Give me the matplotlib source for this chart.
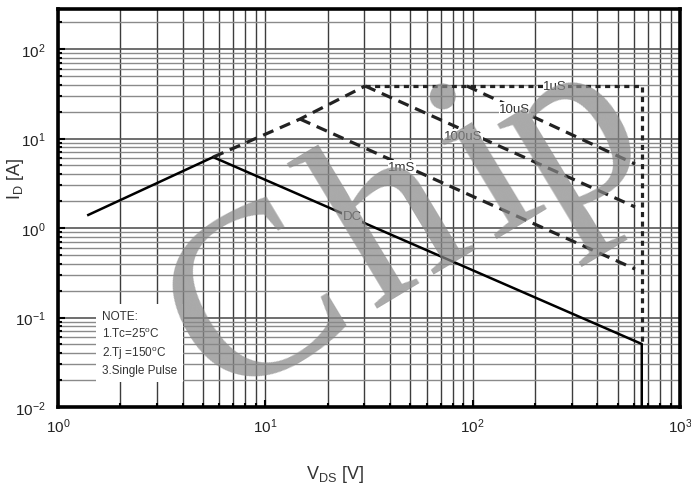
import math
import matplotlib
matplotlib.use("Agg")
import matplotlib.pyplot as plt
from matplotlib.ticker import LogLocator, NullFormatter

plt.rcParams['font.family'] = ['Liberation Sans', 'DejaVu Sans']
plt.rcParams['mathtext.fontset'] = 'custom'
plt.rcParams['mathtext.rm'] = 'Liberation Sans'
plt.rcParams['mathtext.default'] = 'regular'

# ---- data ----
dc_v = [1.4, 5.6, 654, 654]
dc_i = [1.4, 6.2, 0.0506, 0.01]
rds_v = [5.6, 14.7, 30.3]
rds_i = [6.2, 16.5, 38.6]
us1_v = [30.3, 654, 654]
us1_i = [38.6, 38.6, 0.05]
us10_v = [93.7, 607]
us10_i = [38.6, 5.19]
us100_v = [30.3, 607]
us100_i = [38.6, 1.72]
ms1_v = [14.7, 607]
ms1_i = [16.5, 0.348]
curve_labels = ["1uS", "10uS", "100uS", "1mS", "DC"]
note_lines = ["NOTE:", "1.Tc=25$^{o}$C", "2.Tj =150$^{o}$C", "3.Single Pulse"]
watermark = "Chip"

fig = plt.figure(figsize=(6.91, 4.85), dpi=100)
ax = fig.add_axes([58/691, 77/485, 622/691, 398/485])
ax.set_xscale('log')
ax.set_yscale('log')
ax.set_xlim(1, 1000)
ax.set_ylim(0.01, 280)

# grid
ax.xaxis.set_minor_locator(LogLocator(base=10, subs=range(2, 10)))
ax.yaxis.set_minor_locator(LogLocator(base=10, subs=range(2, 10)))
ax.xaxis.set_minor_formatter(NullFormatter())
ax.yaxis.set_minor_formatter(NullFormatter())
ax.grid(True, axis='x', which='both', color='#3c3c3c', lw=1.0, zorder=0)
ax.grid(True, axis='y', which='major', color='#555555', lw=1.2, zorder=0)
ax.grid(True, axis='y', which='minor', color='#8a8a8a', lw=1.0, zorder=0)
ax.set_axisbelow(True)

for s in ax.spines.values():
    s.set_linewidth(2.6)
ax.tick_params(which='both', direction='in', colors='black', labelsize=11)
ax.tick_params(which='major', length=5, width=1.5)
ax.tick_params(which='minor', length=3, width=1.5)
ax.tick_params(axis='y', pad=9)
ax.tick_params(axis='x', pad=7)
for lab in ax.get_xticklabels() + ax.get_yticklabels():
    lab.set_color('#222222')

# curves
ax.plot(dc_v, dc_i, color='black', lw=1.8, zorder=3)
ax.plot(rds_v, rds_i, color='#222222', lw=2.3, ls=(0, (3.5, 2.2)), zorder=3)
ax.plot(us1_v, us1_i, color='#222222', lw=2.3, ls=(0, (1.6, 1.4)), zorder=3)
ax.plot(us10_v, us10_i, color='#222222', lw=2.3, ls=(0, (3.5, 2.2)), zorder=3)
ax.plot(us100_v, us100_i, color='#222222', lw=2.3, ls=(0, (3.5, 2.2)), zorder=3)
ax.plot(ms1_v, ms1_i, color='#222222', lw=2.3, ls=(0, (3.5, 2.2)), zorder=3)

label_pos = [(250, 38.6), (160, 21.4), (90, 10.7), (45.6, 4.8), (26.2, 1.36)]
for txt, (x, y) in zip(curve_labels, label_pos):
    ax.text(x, y, txt, fontsize=9.5, color='#333333', ha='center', va='center', zorder=5,
            bbox=dict(facecolor='white', edgecolor='none', pad=0.5))

ax.text(0.07, 0.243, "\n".join(note_lines), transform=ax.transAxes, fontsize=8.5,
        color='#333333', ha='left', va='top', linespacing=1.35, zorder=5,
        bbox=dict(facecolor='white', edgecolor='none', boxstyle='square,pad=0.5'))

ax.set_xlabel("V$_{DS}$ [V]", fontsize=13, color='#333333')
ax.set_ylabel("I$_{D}$ [A]", fontsize=13, color='#333333')
ax.xaxis.set_label_coords(0.445, -0.14)
ax.yaxis.set_label_coords(-0.052, 0.575)

# watermark, letter by letter along a rotated baseline (pixel layout)
ang = 31
em = 177 / 72 * 100
adv = {'C': 0.667, 'h': 0.5, 'i': 0.278, 'p': 0.5}
track = [14, 16, 18, 0]
nudge = [(0, 0), (0, 0), (0, 0), (-14, 28)]
ox, oy = 220.0, 402.0
dist = 0.0
for k, ch in enumerate(watermark):
    px = ox + dist * math.cos(math.radians(ang)) + nudge[k][0]
    py = oy - dist * math.sin(math.radians(ang)) + nudge[k][1]
    fig.text(px / 691, (485 - py) / 485, ch, fontsize=177,
             family=['Liberation Serif', 'DejaVu Serif'],
             color='#888888', alpha=0.72, rotation=ang, rotation_mode='anchor',
             ha='left', va='baseline', zorder=10)
    dist += adv[ch] * em + track[k]

fig.savefig("out.png", dpi=100)
